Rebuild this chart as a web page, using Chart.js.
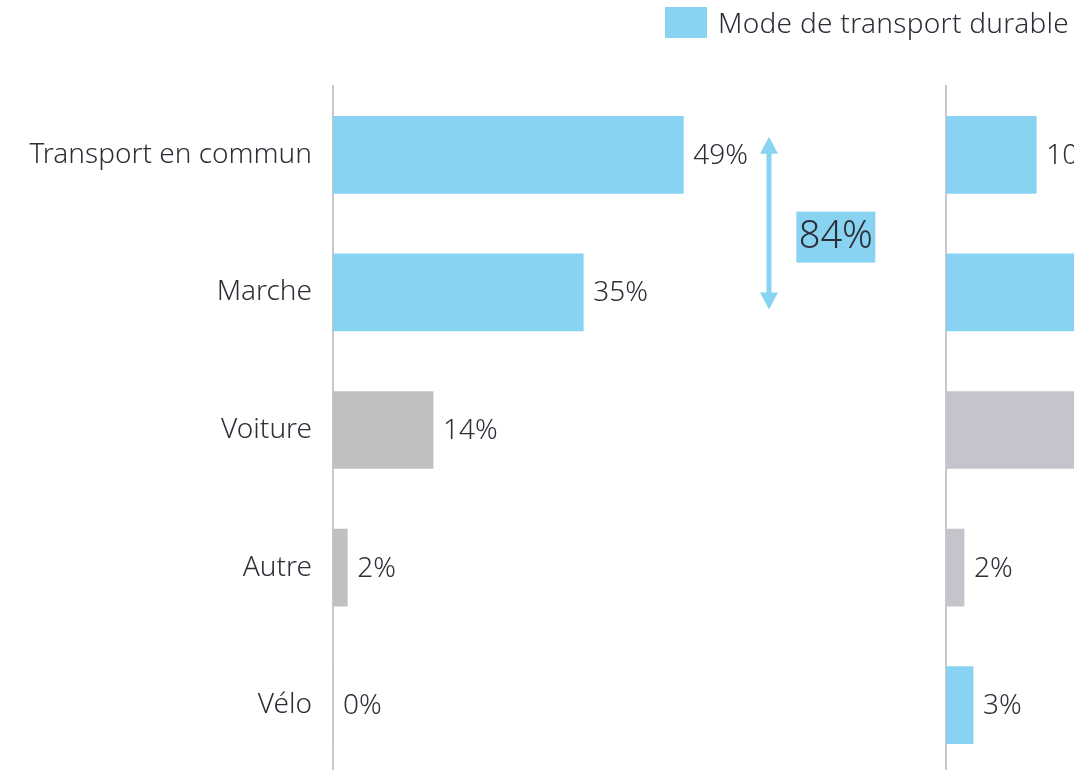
<!DOCTYPE html>
<html>
<head>
<meta charset="utf-8">
<script src="https://cdn.jsdelivr.net/npm/chart.js@4"></script>
<style>
html, body { margin: 0; padding: 0; width: 1074px; height: 770px; overflow: hidden; background: #fff; }
#wrap { position: relative; width: 1074px; height: 770px; overflow: hidden; }
#leftChart { position: absolute; left: 0; top: 0; }
#rightChart { position: absolute; left: 935px; top: 0; }
#legend { position: absolute; left: 665px; top: 7px; white-space: nowrap; font-family: "Noto Sans", sans-serif; font-weight: 300; font-size: 28px; letter-spacing: 0.3px; color: #2e2e38; }
#legend .box { display: inline-block; width: 42px; height: 31px; background: #89d3f2; vertical-align: top; }
#legend .txt { display: inline-block; margin-left: 11px; line-height: 31px; vertical-align: top; }
</style>
</head>
<body>
<div id="wrap">
	<canvas id="leftChart" width="905" height="774"></canvas>
	<canvas id="rightChart" width="715" height="774"></canvas>
	<div id="legend"><span class="box"></span><span class="txt">Mode de transport durable</span></div>
</div>
<script>
var categories = ["Transport en commun", "Marche", "Voiture", "Autre", "Vélo"];
var durable = [true, true, false, false, true];
var leftValues = [49, 35, 14, 2, 0];
var rightValues = [10, 47, 38, 2, 3];

var BLUE = "#89d3f2";
var TEXT = "#2e2e38";
var FONT = '"Noto Sans", sans-serif';

function colorsFor(grey){
	var out = [];
	for (var i = 0; i < durable.length; i++) {
		out.push(durable[i] ? BLUE : grey);
	}
	return out;
}

// value labels at the end of each bar
var valueLabels = {
	id: 'valueLabels',
	afterDatasetsDraw: function(chart){
		var ctx = chart.ctx;
		var meta = chart.getDatasetMeta(0);
		var data = chart.data.datasets[0].data;
		ctx.save();
		ctx.font = "300 28px " + FONT;
		ctx.fillStyle = TEXT;
		ctx.textAlign = "left";
		ctx.textBaseline = "middle";
		for (var i = 0; i < meta.data.length; i++) {
			var bar = meta.data[i];
			ctx.fillText(data[i] + "%", bar.x + 10, bar.y + 1);
		}
		ctx.restore();
	}
};

// double arrow + total for the sustainable modes
var durableTotal = {
	id: 'durableTotal',
	afterDatasetsDraw: function(chart){
		var ctx = chart.ctx;
		var x = chart.scales.x;
		var y = chart.scales.y;
		var total = 0;
		for (var i = 0; i < leftValues.length; i++) {
			if (durable[i]) total += leftValues[i];
		}
		var ax = Math.round(x.getPixelForValue(61));
		var top = y.getPixelForValue(0) - 18;
		var bottom = y.getPixelForValue(1) + 17;
		ctx.save();
		ctx.fillStyle = BLUE;
		ctx.strokeStyle = BLUE;
		ctx.lineWidth = 5;
		ctx.beginPath();
		ctx.moveTo(ax, top + 14);
		ctx.lineTo(ax, bottom - 14);
		ctx.stroke();
		ctx.beginPath();
		ctx.moveTo(ax, top);
		ctx.lineTo(ax - 9, top + 17);
		ctx.lineTo(ax + 9, top + 17);
		ctx.closePath();
		ctx.fill();
		ctx.beginPath();
		ctx.moveTo(ax, bottom);
		ctx.lineTo(ax - 9, bottom - 17);
		ctx.lineTo(ax + 9, bottom - 17);
		ctx.closePath();
		ctx.fill();

		var bx = x.getPixelForValue(64.8);
		var by = (y.getPixelForValue(0) + y.getPixelForValue(1)) / 2 + 13;
		ctx.fillRect(bx, by - 25, 79, 51);
		ctx.font = "300 38px " + FONT;
		ctx.fillStyle = TEXT;
		ctx.textAlign = "center";
		ctx.textBaseline = "middle";
		ctx.fillText(total + "%", bx + 39.5, by + 1);
		ctx.restore();
	}
};

function makeConfig(values, grey, xMax, axisWidth, showLabels, extra){
	return {
		type: 'bar',
		data: {
			labels: categories,
			datasets: [
				{
					data: values,
					backgroundColor: colorsFor(grey),
					borderWidth: 0,
					barThickness: 77
				}
			]
		},
		options: {
			indexAxis: 'y',
			responsive: false,
			animation: false,
			layout: { padding: { top: 86, left: 0, right: 0, bottom: 0 } },
			plugins: {
				legend: { display: false },
				tooltip: { enabled: false }
			},
			scales: {
				x: {
					display: false,
					min: 0,
					max: xMax
				},
				y: {
					afterFit: function(scale){
						scale.width = axisWidth;
						scale.paddingTop = 0;
						scale.paddingBottom = 0;
					},
					grid: { display: false, drawTicks: false },
					border: { display: true, color: "#c8c8c8", width: 2 },
					ticks: {
						display: showLabels,
						padding: 21,
						color: TEXT,
						font: { family: FONT, size: 28, weight: 300 }
					}
				}
			}
		},
		plugins: extra
	};
}

var leftChart = new Chart(
	document.getElementById('leftChart'),
	makeConfig(leftValues, "#c0c0c0", 80, 333, true, [valueLabels, durableTotal])
);
var rightChart = new Chart(
	document.getElementById('rightChart'),
	makeConfig(rightValues, "#c4c4cd", 78, 11, false, [valueLabels])
);
</script>
</body>
</html>
